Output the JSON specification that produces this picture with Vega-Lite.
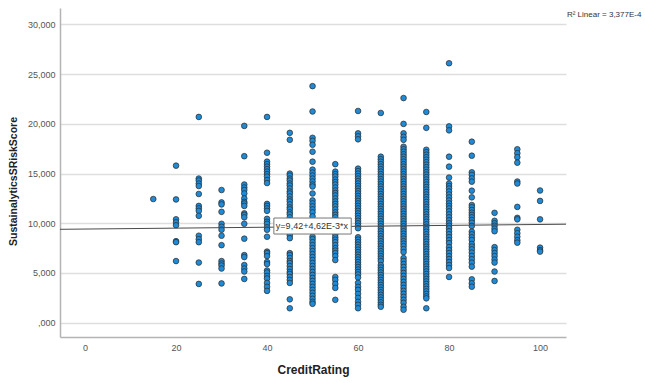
{
  "$schema": "https://vega.github.io/schema/vega-lite/v6.json",
  "width": 506,
  "height": 329,
  "autosize": {"type": "none"},
  "padding": {"left": 60, "top": 8, "right": 79, "bottom": 46},
  "background": "white",
  "config": {
    "view": {"stroke": null},
    "font": "Liberation Sans"
  },
  "datasets": {
    "pts": [
      {"c":15,"s":12.44},
      {"c":20,"s":15.8},{"c":20,"s":12.4},{"c":20,"s":10.4},{"c":20,"s":10.1},{"c":20,"s":9.8},{"c":20,"s":8.2},{"c":20,"s":8.1},{"c":20,"s":6.2},
      {"c":25,"s":20.7},{"c":25,"s":14.5},{"c":25,"s":14.3},{"c":25,"s":14.0},{"c":25,"s":13.75},{"c":25,"s":12.95},{"c":25,"s":11.75},{"c":25,"s":11.5},{"c":25,"s":11.25},{"c":25,"s":10.75},{"c":25,"s":8.75},{"c":25,"s":8.4},{"c":25,"s":8.1},{"c":25,"s":6.05},{"c":25,"s":3.9},
      {"c":30,"s":13.35},{"c":30,"s":12.1},{"c":30,"s":11.9},{"c":30,"s":11.15},{"c":30,"s":9.95},{"c":30,"s":9.65},{"c":30,"s":9.35},{"c":30,"s":8.75},{"c":30,"s":7.8},{"c":30,"s":6.2},{"c":30,"s":5.95},{"c":30,"s":5.75},{"c":30,"s":5.45},{"c":30,"s":3.95},
      {"c":35,"s":19.8},{"c":35,"s":16.75},{"c":35,"s":13.9},{"c":35,"s":13.6},{"c":35,"s":13.35},{"c":35,"s":13.0},{"c":35,"s":12.5},{"c":35,"s":12.15},{"c":35,"s":12.0},{"c":35,"s":11.75},{"c":35,"s":11.0},{"c":35,"s":10.85},{"c":35,"s":10.6},{"c":35,"s":9.95},{"c":35,"s":8.45},{"c":35,"s":6.8},{"c":35,"s":6.6},{"c":35,"s":5.8},{"c":35,"s":5.45},{"c":35,"s":5.15},{"c":35,"s":4.4},
      {"c":40,"s":20.7},{"c":40,"s":17.1},{"c":40,"s":16.2},{"c":40,"s":15.95},{"c":40,"s":15.7},{"c":40,"s":15.45},{"c":40,"s":15.2},{"c":40,"s":14.95},{"c":40,"s":14.7},{"c":40,"s":14.35},{"c":40,"s":14.05},{"c":40,"s":11.95},{"c":40,"s":11.75},{"c":40,"s":11.5},{"c":40,"s":11.25},{"c":40,"s":10.45},{"c":40,"s":10.15},{"c":40,"s":9.95},{"c":40,"s":9.6},{"c":40,"s":9.35},{"c":40,"s":8.65},{"c":40,"s":7.15},{"c":40,"s":7.0},{"c":40,"s":6.7},{"c":40,"s":6.1},{"c":40,"s":5.9},{"c":40,"s":5.25},{"c":40,"s":5.05},{"c":40,"s":4.7},{"c":40,"s":4.45},{"c":40,"s":4.0},{"c":40,"s":3.6},{"c":40,"s":3.2},
      {"c":45,"s":19.1},{"c":45,"s":18.4},{"c":45,"s":15.0},{"c":45,"s":14.8},{"c":45,"s":14.5},{"c":45,"s":14.3},{"c":45,"s":14.0},{"c":45,"s":13.8},{"c":45,"s":13.5},{"c":45,"s":13.2},{"c":45,"s":13.0},{"c":45,"s":12.7},{"c":45,"s":12.4},{"c":45,"s":12.2},{"c":45,"s":11.9},{"c":45,"s":11.6},{"c":45,"s":11.4},{"c":45,"s":11.1},{"c":45,"s":10.9},{"c":45,"s":10.6},{"c":45,"s":10.3},{"c":45,"s":10.1},{"c":45,"s":9.8},{"c":45,"s":9.6},{"c":45,"s":9.3},{"c":45,"s":9.0},{"c":45,"s":8.8},{"c":45,"s":8.5},{"c":45,"s":7.0},{"c":45,"s":6.8},{"c":45,"s":6.5},{"c":45,"s":6.2},{"c":45,"s":6.0},{"c":45,"s":5.7},{"c":45,"s":5.4},{"c":45,"s":5.1},{"c":45,"s":4.9},{"c":45,"s":4.6},{"c":45,"s":4.3},{"c":45,"s":4.0},{"c":45,"s":2.35},{"c":45,"s":1.45},
      {"c":50,"s":23.8},{"c":50,"s":21.25},{"c":50,"s":18.6},{"c":50,"s":18.3},{"c":50,"s":17.9},{"c":50,"s":17.2},{"c":50,"s":16.2},{"c":50,"s":15.4},{"c":50,"s":15.1},{"c":50,"s":14.8},{"c":50,"s":14.5},{"c":50,"s":14.2},{"c":50,"s":13.9},{"c":50,"s":13.7},{"c":50,"s":13.0},{"c":50,"s":12.3},{"c":50,"s":12.0},{"c":50,"s":11.7},{"c":50,"s":11.4},{"c":50,"s":11.1},{"c":50,"s":10.7},{"c":50,"s":8.65},{"c":50,"s":8.4},{"c":50,"s":8.1},{"c":50,"s":7.8},{"c":50,"s":7.5},{"c":50,"s":7.2},{"c":50,"s":6.9},{"c":50,"s":6.6},{"c":50,"s":6.3},{"c":50,"s":6.0},{"c":50,"s":5.7},{"c":50,"s":5.4},{"c":50,"s":5.1},{"c":50,"s":4.8},{"c":50,"s":4.5},{"c":50,"s":4.2},{"c":50,"s":3.9},{"c":50,"s":3.6},{"c":50,"s":3.3},{"c":50,"s":3.0},{"c":50,"s":2.7},{"c":50,"s":2.4},{"c":50,"s":2.1},{"c":50,"s":1.9},
      {"c":55,"s":15.95},{"c":55,"s":15.2},{"c":55,"s":14.95},{"c":55,"s":14.7},{"c":55,"s":14.4},{"c":55,"s":14.15},{"c":55,"s":13.9},{"c":55,"s":13.6},{"c":55,"s":13.3},{"c":55,"s":13.05},{"c":55,"s":12.8},{"c":55,"s":12.5},{"c":55,"s":12.2},{"c":55,"s":11.95},{"c":55,"s":11.7},{"c":55,"s":11.4},{"c":55,"s":11.1},{"c":55,"s":10.85},{"c":55,"s":10.6},{"c":55,"s":10.3},{"c":55,"s":10.0},{"c":55,"s":9.7},{"c":55,"s":9.45},{"c":55,"s":9.2},{"c":55,"s":8.9},{"c":55,"s":8.6},{"c":55,"s":8.35},{"c":55,"s":8.1},{"c":55,"s":7.8},{"c":55,"s":7.5},{"c":55,"s":7.25},{"c":55,"s":7.0},{"c":55,"s":6.7},{"c":55,"s":6.3},{"c":55,"s":4.6},{"c":55,"s":4.3},{"c":55,"s":3.9},{"c":55,"s":3.5},{"c":55,"s":2.3},
      {"c":60,"s":21.3},{"c":60,"s":19.05},{"c":60,"s":18.75},{"c":60,"s":18.45},{"c":60,"s":15.5},{"c":60,"s":15.25},{"c":60,"s":15.0},{"c":60,"s":14.75},{"c":60,"s":14.5},{"c":60,"s":14.25},{"c":60,"s":14.0},{"c":60,"s":13.75},{"c":60,"s":13.5},{"c":60,"s":13.25},{"c":60,"s":13.0},{"c":60,"s":12.75},{"c":60,"s":12.5},{"c":60,"s":12.25},{"c":60,"s":12.0},{"c":60,"s":11.75},{"c":60,"s":11.5},{"c":60,"s":11.25},{"c":60,"s":11.0},{"c":60,"s":10.75},{"c":60,"s":10.5},{"c":60,"s":10.25},{"c":60,"s":10.0},{"c":60,"s":9.75},{"c":60,"s":9.5},{"c":60,"s":8.6},{"c":60,"s":8.35},{"c":60,"s":8.1},{"c":60,"s":7.85},{"c":60,"s":7.6},{"c":60,"s":7.35},{"c":60,"s":7.1},{"c":60,"s":6.85},{"c":60,"s":6.6},{"c":60,"s":6.35},{"c":60,"s":6.1},{"c":60,"s":5.85},{"c":60,"s":5.6},{"c":60,"s":5.35},{"c":60,"s":5.1},{"c":60,"s":4.85},{"c":60,"s":4.55},{"c":60,"s":4.0},{"c":60,"s":3.6},{"c":60,"s":3.3},{"c":60,"s":2.9},{"c":60,"s":2.5},{"c":60,"s":2.1},{"c":60,"s":1.8},{"c":60,"s":1.45},
      {"c":65,"s":21.1},{"c":65,"s":16.7},{"c":65,"s":16.45},{"c":65,"s":16.2},{"c":65,"s":15.95},{"c":65,"s":15.7},{"c":65,"s":15.45},{"c":65,"s":15.2},{"c":65,"s":14.95},{"c":65,"s":14.7},{"c":65,"s":14.45},{"c":65,"s":14.2},{"c":65,"s":13.95},{"c":65,"s":13.7},{"c":65,"s":13.45},{"c":65,"s":13.2},{"c":65,"s":12.95},{"c":65,"s":12.7},{"c":65,"s":12.45},{"c":65,"s":12.2},{"c":65,"s":11.95},{"c":65,"s":11.7},{"c":65,"s":11.45},{"c":65,"s":11.2},{"c":65,"s":10.95},{"c":65,"s":10.7},{"c":65,"s":10.45},{"c":65,"s":10.2},{"c":65,"s":9.95},{"c":65,"s":9.7},{"c":65,"s":9.45},{"c":65,"s":9.2},{"c":65,"s":8.95},{"c":65,"s":8.7},{"c":65,"s":8.45},{"c":65,"s":8.2},{"c":65,"s":7.95},{"c":65,"s":7.7},{"c":65,"s":7.45},{"c":65,"s":7.2},{"c":65,"s":6.95},{"c":65,"s":6.7},{"c":65,"s":6.45},{"c":65,"s":6.2},{"c":65,"s":5.8},{"c":65,"s":5.55},{"c":65,"s":5.3},{"c":65,"s":5.05},{"c":65,"s":4.8},{"c":65,"s":4.55},{"c":65,"s":4.3},{"c":65,"s":4.05},{"c":65,"s":3.8},{"c":65,"s":3.55},{"c":65,"s":3.3},{"c":65,"s":3.05},{"c":65,"s":2.8},{"c":65,"s":2.55},{"c":65,"s":2.3},{"c":65,"s":2.05},{"c":65,"s":1.8},{"c":65,"s":1.6},
      {"c":70,"s":22.6},{"c":70,"s":20.0},{"c":70,"s":19.05},{"c":70,"s":18.7},{"c":70,"s":18.4},{"c":70,"s":17.7},{"c":70,"s":17.45},{"c":70,"s":17.2},{"c":70,"s":16.95},{"c":70,"s":16.7},{"c":70,"s":16.45},{"c":70,"s":16.2},{"c":70,"s":15.95},{"c":70,"s":15.7},{"c":70,"s":15.45},{"c":70,"s":15.2},{"c":70,"s":14.95},{"c":70,"s":14.7},{"c":70,"s":14.45},{"c":70,"s":14.2},{"c":70,"s":13.95},{"c":70,"s":13.7},{"c":70,"s":13.45},{"c":70,"s":13.2},{"c":70,"s":12.95},{"c":70,"s":12.7},{"c":70,"s":12.45},{"c":70,"s":12.2},{"c":70,"s":11.95},{"c":70,"s":11.7},{"c":70,"s":11.45},{"c":70,"s":11.2},{"c":70,"s":10.95},{"c":70,"s":10.7},{"c":70,"s":10.45},{"c":70,"s":10.2},{"c":70,"s":9.95},{"c":70,"s":9.7},{"c":70,"s":9.45},{"c":70,"s":9.2},{"c":70,"s":8.95},{"c":70,"s":8.7},{"c":70,"s":8.45},{"c":70,"s":8.2},{"c":70,"s":7.95},{"c":70,"s":7.7},{"c":70,"s":7.4},{"c":70,"s":7.1},{"c":70,"s":6.5},{"c":70,"s":6.2},{"c":70,"s":5.9},{"c":70,"s":5.6},{"c":70,"s":5.3},{"c":70,"s":5.0},{"c":70,"s":4.7},{"c":70,"s":4.4},{"c":70,"s":4.1},{"c":70,"s":3.8},{"c":70,"s":3.5},{"c":70,"s":3.2},{"c":70,"s":2.9},{"c":70,"s":2.6},{"c":70,"s":2.3},{"c":70,"s":2.0},{"c":70,"s":1.6},{"c":70,"s":1.3},
      {"c":75,"s":21.2},{"c":75,"s":19.6},{"c":75,"s":17.4},{"c":75,"s":17.15},{"c":75,"s":16.9},{"c":75,"s":16.65},{"c":75,"s":16.4},{"c":75,"s":16.15},{"c":75,"s":15.9},{"c":75,"s":15.65},{"c":75,"s":15.4},{"c":75,"s":15.15},{"c":75,"s":14.9},{"c":75,"s":14.65},{"c":75,"s":14.4},{"c":75,"s":14.15},{"c":75,"s":13.9},{"c":75,"s":13.65},{"c":75,"s":13.4},{"c":75,"s":13.15},{"c":75,"s":12.9},{"c":75,"s":12.65},{"c":75,"s":12.4},{"c":75,"s":12.15},{"c":75,"s":11.9},{"c":75,"s":11.65},{"c":75,"s":11.4},{"c":75,"s":11.15},{"c":75,"s":10.9},{"c":75,"s":10.65},{"c":75,"s":10.4},{"c":75,"s":10.15},{"c":75,"s":9.9},{"c":75,"s":9.65},{"c":75,"s":9.4},{"c":75,"s":9.15},{"c":75,"s":8.9},{"c":75,"s":8.65},{"c":75,"s":8.4},{"c":75,"s":8.15},{"c":75,"s":7.9},{"c":75,"s":7.65},{"c":75,"s":7.4},{"c":75,"s":7.15},{"c":75,"s":6.9},{"c":75,"s":6.65},{"c":75,"s":6.4},{"c":75,"s":6.15},{"c":75,"s":5.9},{"c":75,"s":5.65},{"c":75,"s":5.4},{"c":75,"s":5.15},{"c":75,"s":4.9},{"c":75,"s":4.65},{"c":75,"s":4.4},{"c":75,"s":4.15},{"c":75,"s":3.9},{"c":75,"s":3.65},{"c":75,"s":3.4},{"c":75,"s":3.15},{"c":75,"s":2.9},{"c":75,"s":2.65},{"c":75,"s":2.45},{"c":75,"s":1.45},
      {"c":80,"s":26.1},{"c":80,"s":19.75},{"c":80,"s":19.35},{"c":80,"s":16.7},{"c":80,"s":15.7},{"c":80,"s":14.6},{"c":80,"s":14.0},{"c":80,"s":13.75},{"c":80,"s":13.5},{"c":80,"s":13.2},{"c":80,"s":12.9},{"c":80,"s":12.6},{"c":80,"s":12.3},{"c":80,"s":12.0},{"c":80,"s":11.75},{"c":80,"s":11.5},{"c":80,"s":11.2},{"c":80,"s":10.9},{"c":80,"s":10.6},{"c":80,"s":10.3},{"c":80,"s":10.0},{"c":80,"s":9.75},{"c":80,"s":9.5},{"c":80,"s":9.2},{"c":80,"s":8.9},{"c":80,"s":8.6},{"c":80,"s":8.3},{"c":80,"s":8.0},{"c":80,"s":7.6},{"c":80,"s":7.3},{"c":80,"s":7.0},{"c":80,"s":6.7},{"c":80,"s":6.4},{"c":80,"s":6.1},{"c":80,"s":5.8},{"c":80,"s":5.5},{"c":80,"s":4.6},
      {"c":85,"s":18.21},{"c":85,"s":16.8},{"c":85,"s":15.13},{"c":85,"s":14.86},{"c":85,"s":14.52},{"c":85,"s":14.19},{"c":85,"s":13.28},{"c":85,"s":12.61},{"c":85,"s":11.84},{"c":85,"s":11.61},{"c":85,"s":11.34},{"c":85,"s":11.07},{"c":85,"s":10.84},{"c":85,"s":10.6},{"c":85,"s":10.33},{"c":85,"s":10.06},{"c":85,"s":9.73},{"c":85,"s":9.16},{"c":85,"s":8.89},{"c":85,"s":8.59},{"c":85,"s":8.32},{"c":85,"s":7.92},{"c":85,"s":7.65},{"c":85,"s":7.38},{"c":85,"s":7.05},{"c":85,"s":6.71},{"c":85,"s":6.38},{"c":85,"s":6.04},{"c":85,"s":5.64},{"c":85,"s":4.36},{"c":85,"s":3.96},{"c":85,"s":3.62},
      {"c":90,"s":11.05},{"c":90,"s":10.25},{"c":90,"s":10.0},{"c":90,"s":9.75},{"c":90,"s":9.45},{"c":90,"s":9.2},{"c":90,"s":7.6},{"c":90,"s":7.3},{"c":90,"s":7.0},{"c":90,"s":6.7},{"c":90,"s":6.35},{"c":90,"s":6.05},{"c":90,"s":5.15},{"c":90,"s":4.2},
      {"c":95,"s":17.45},{"c":95,"s":17.05},{"c":95,"s":16.65},{"c":95,"s":16.1},{"c":95,"s":14.2},{"c":95,"s":14.0},{"c":95,"s":11.65},{"c":95,"s":10.55},{"c":95,"s":10.4},{"c":95,"s":9.35},{"c":95,"s":9.0},{"c":95,"s":8.65},{"c":95,"s":8.3},{"c":95,"s":8.05},
      {"c":100,"s":13.3},{"c":100,"s":12.25},{"c":100,"s":10.4},{"c":100,"s":7.55},{"c":100,"s":7.3},{"c":100,"s":7.15}
    ],
    "fit": [
      {"c": -5.5, "s": 9.395},
      {"c": 105.7, "s": 9.908}
    ],
    "box": [
      {"c": 41.5, "c2": 58.5, "s": 8.92, "s2": 10.53, "label": "y=9,42+4,62E-3*x"}
    ],
    "r2": [
      {"c": 105.9, "s": 30.95, "label": "R² Linear = 3,377E-4"}
    ]
  },
  "encoding": {
    "x": {
      "field": "c",
      "type": "quantitative",
      "scale": {"domain": [-5.5, 105.7], "nice": false, "zero": false},
      "axis": {
        "title": "CreditRating",
        "values": [0, 20, 40, 60, 80, 100],
        "grid": false,
        "ticks": false,
        "domainColor": "#b4b4b4",
        "domainWidth": 1.5,
        "labelColor": "#555555",
        "labelFontSize": 9,
        "labelPadding": 6,
        "labelFont": "Liberation Sans",
        "titleFont": "Liberation Sans",
        "titleFontSize": 12,
        "titleFontWeight": "bold",
        "titleColor": "#222222",
        "titlePadding": 12
      }
    },
    "y": {
      "field": "s",
      "type": "quantitative",
      "scale": {"domain": [-1.44, 31.66], "nice": false, "zero": false},
      "axis": {
        "title": "SustainalyticsSRiskScore",
        "values": [0, 5, 10, 15, 20, 25, 30],
        "labelExpr": "datum.value == 0 ? ',000' : replace(format(datum.value, '.3f'), '.', ',')",
        "grid": true,
        "gridColor": "#dedede",
        "gridWidth": 1.5,
        "ticks": false,
        "domainColor": "#b4b4b4",
        "domainWidth": 1.5,
        "labelColor": "#555555",
        "labelFontSize": 9,
        "labelPadding": 5,
        "labelFont": "Liberation Sans",
        "titleFont": "Liberation Sans",
        "titleFontSize": 10.5,
        "titleFontWeight": "bold",
        "titleColor": "#222222",
        "titleX": -47,
        "titleY": 173,
        "titleAngle": -90,
        "titleAlign": "center",
        "titleBaseline": "middle"
      }
    }
  },
  "layer": [
    {
      "data": {"name": "pts"},
      "mark": {"type": "point", "shape": "circle", "filled": true, "size": 32, "fill": "#1f8ad6", "stroke": "#2a2a2a", "strokeWidth": 0.7, "opacity": 1, "fillOpacity": 1}
    },
    {
      "data": {"name": "fit"},
      "mark": {"type": "line", "color": "#4a4a4a", "strokeWidth": 1, "clip": true}
    },
    {
      "data": {"name": "box"},
      "mark": {"type": "rect", "fill": "white", "stroke": "#777777", "strokeWidth": 1},
      "encoding": {
        "x2": {"field": "c2"},
        "y2": {"field": "s2"}
      }
    },
    {
      "data": {"name": "box"},
      "mark": {"type": "text", "align": "left", "baseline": "middle", "dx": 2, "dy": -8, "fontSize": 9, "color": "#333333", "font": "Liberation Sans"},
      "encoding": {
        "text": {"field": "label"}
      }
    },
    {
      "data": {"name": "r2"},
      "mark": {"type": "text", "align": "left", "baseline": "middle", "fontSize": 8, "color": "#333333", "font": "Liberation Sans"},
      "encoding": {
        "text": {"field": "label"}
      }
    }
  ]
}
